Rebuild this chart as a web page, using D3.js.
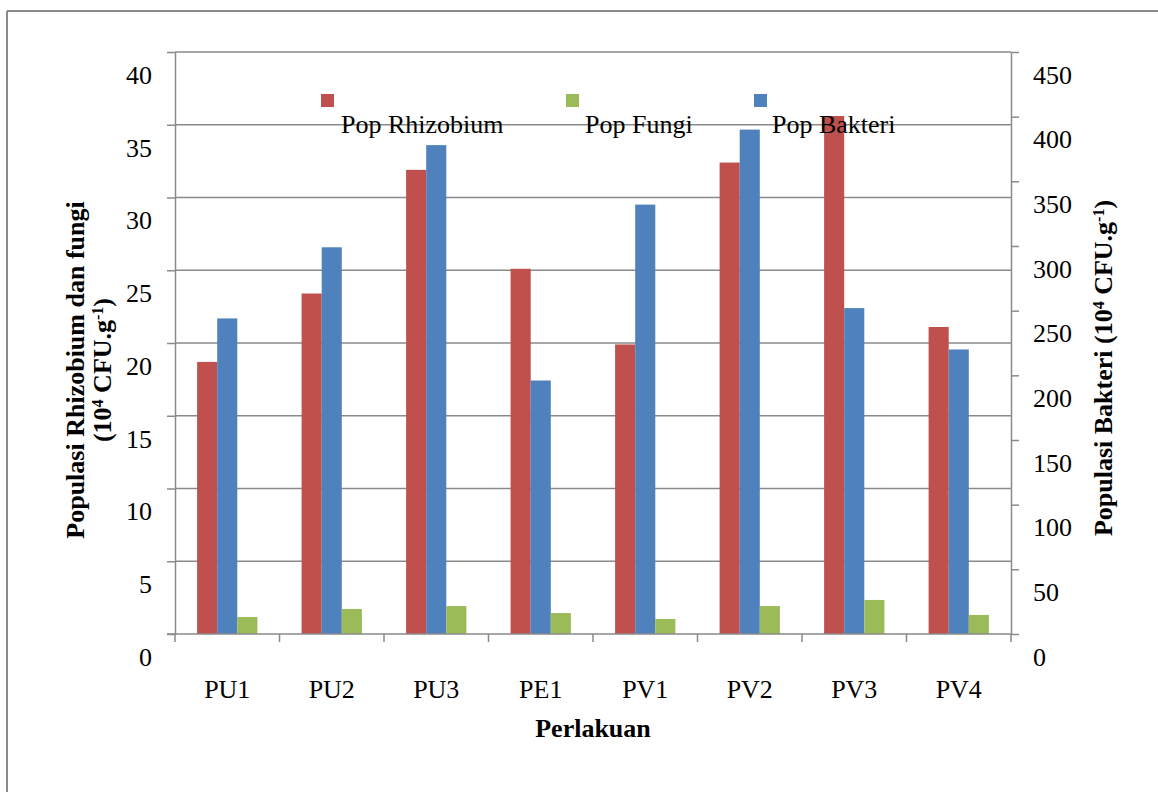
<!DOCTYPE html>
<html>
<head>
<meta charset="utf-8">
<script src="https://cdn.jsdelivr.net/npm/d3@7"></script>
<style>
  html, body { margin: 0; padding: 0; background: #fff; }
  svg { display: block; }
  text { font-family: "Liberation Serif", "Times New Roman", serif; fill: #000; }
</style>
</head>
<body>
<svg id="chart" width="1158" height="792"></svg>
<script>
const categories = ["PU1", "PU2", "PU3", "PE1", "PV1", "PV2", "PV3", "PV4"];
const rhizobium = [18.7, 23.4, 31.9, 25.1, 19.9, 32.4, 35.6, 21.1];
const fungi     = [1.17, 1.72, 1.92, 1.44, 1.03, 1.92, 2.34, 1.31];
const bakteri   = [244, 299, 378, 196, 332, 390, 252, 220];
const leftTicks  = [0, 5, 10, 15, 20, 25, 30, 35, 40];
const rightTicks = [0, 50, 100, 150, 200, 250, 300, 350, 400, 450];
const seriesNames = ["Pop Rhizobium", "Pop Fungi", "Pop Bakteri"];
const seriesColors = {"Pop Rhizobium": "#C0504D", "Pop Fungi": "#9BBB59", "Pop Bakteri": "#4F81BD"};
const barOrder = ["Pop Rhizobium", "Pop Bakteri", "Pop Fungi"];

const svg = d3.select("#chart");
const L = 175, R = 1011, T = 52, B = 634;
const gridColor = "#8a8a8a";
const tickFont = 26;

// outer frame (left and top edges only visible)
svg.append("line").attr("x1", 7).attr("x2", 1158).attr("y1", 11).attr("y2", 11)
  .attr("stroke", "#8a8a8a").attr("stroke-width", 2);
svg.append("line").attr("x1", 7).attr("x2", 7).attr("y1", 11).attr("y2", 792)
  .attr("stroke", "#8a8a8a").attr("stroke-width", 2);

const x = d3.scaleBand().domain(categories).range([L, R]).padding(0);
const xs = d3.scaleBand().domain(barOrder).range([0, x.bandwidth()]).paddingInner(0).paddingOuter(1.1);
const yL = d3.scaleLinear().domain([0, 40]).range([B, T]);
const yR = d3.scaleLinear().domain([0, 450]).range([B, T]);

// gridlines
svg.append("g").selectAll("line").data(leftTicks.filter(v => v > 0)).join("line")
  .attr("x1", L).attr("x2", R).attr("y1", d => yL(d)).attr("y2", d => yL(d))
  .attr("stroke", gridColor).attr("stroke-width", 1.5);

// bars
const rows = categories.map((c, i) => ({
  cat: c,
  vals: [
    {s: "Pop Rhizobium", v: rhizobium[i], sc: yL},
    {s: "Pop Bakteri", v: bakteri[i], sc: yR},
    {s: "Pop Fungi", v: fungi[i], sc: yL}
  ]
}));
const g = svg.append("g").selectAll("g").data(rows).join("g")
  .attr("transform", d => `translate(${x(d.cat)},0)`);
g.selectAll("rect").data(d => d.vals).join("rect")
  .attr("x", d => xs(d.s)).attr("width", xs.bandwidth())
  .attr("y", d => d.sc(d.v)).attr("height", d => B - d.sc(d.v))
  .attr("fill", d => seriesColors[d.s]);

// left axis
const axL = svg.append("g").attr("transform", `translate(${L},0)`)
  .call(d3.axisLeft(yL).tickValues(leftTicks).tickSize(8).tickSizeOuter(0).tickPadding(15));
axL.select(".domain").attr("stroke", gridColor).attr("stroke-width", 1.5);
axL.selectAll(".tick line").attr("stroke", gridColor).attr("stroke-width", 1.5);
axL.selectAll(".tick text").attr("font-size", tickFont).attr("font-family", "Liberation Serif")
  .attr("dy", "0.32em").attr("y", 23);

// right axis
const axR = svg.append("g").attr("transform", `translate(${R},0)`)
  .call(d3.axisRight(yR).tickValues(rightTicks).tickSize(8).tickSizeOuter(0).tickPadding(14));
axR.select(".domain").attr("stroke", gridColor).attr("stroke-width", 1.5);
axR.selectAll(".tick line").attr("stroke", gridColor).attr("stroke-width", 1.5);
axR.selectAll(".tick text").attr("font-size", tickFont).attr("font-family", "Liberation Serif")
  .attr("dy", "0.32em").attr("y", 23);

// bottom axis
const bounds = categories.map(c => x(c)).concat([x(categories[categories.length - 1]) + x.bandwidth()]);
svg.append("line").attr("x1", L - 8).attr("x2", R).attr("y1", B).attr("y2", B)
  .attr("stroke", gridColor).attr("stroke-width", 1.5);
svg.append("g").selectAll("line").data(bounds).join("line")
  .attr("x1", d => d).attr("x2", d => d).attr("y1", B).attr("y2", B + 8)
  .attr("stroke", gridColor).attr("stroke-width", 1.5);
svg.append("g").selectAll("text").data(categories).join("text")
  .attr("x", d => x(d) + x.bandwidth() / 2).attr("y", 689).attr("dy", "0.35em")
  .attr("text-anchor", "middle").attr("font-size", tickFont).text(d => d);

// axis titles
svg.append("text").attr("x", 593).attr("y", 728).attr("dy", "0.35em")
  .attr("text-anchor", "middle").attr("font-size", 26).attr("font-weight", "bold").text("Perlakuan");

function supTitle(sel, before, sup1, mid, sup2, after) {
  sel.append("tspan").text(before);
  sel.append("tspan").attr("font-size", 16).attr("baseline-shift", "super").text(sup1);
  sel.append("tspan").text(mid);
  sel.append("tspan").attr("font-size", 16).attr("baseline-shift", "super").text(sup2);
  sel.append("tspan").text(after);
}

const lt = svg.append("g").attr("transform", "translate(75,370) rotate(-90)");
lt.append("text").attr("text-anchor", "middle").attr("dy", "0.35em").attr("font-size", 26)
  .attr("font-weight", "bold").text("Populasi Rhizobium dan fungi");
supTitle(lt.append("text").attr("y", 27).attr("text-anchor", "middle").attr("dy", "0.35em")
  .attr("font-size", 26).attr("font-weight", "bold"), "(10", "4", " CFU.g", "-1", ")");

const rt = svg.append("g").attr("transform", "translate(1103,368) rotate(-90)");
supTitle(rt.append("text").attr("text-anchor", "middle").attr("dy", "0.35em")
  .attr("font-size", 26).attr("font-weight", "bold"), "Populasi Bakteri (10", "4", " CFU.g", "-1", ")");

// legend
const legendItems = [
  {s: "Pop Rhizobium", sx: 321, tx: 341},
  {s: "Pop Fungi", sx: 566, tx: 585},
  {s: "Pop Bakteri", sx: 754, tx: 772}
];
const lg = svg.append("g").selectAll("g").data(legendItems).join("g");
lg.append("rect").attr("x", d => d.sx).attr("y", 94).attr("width", 13).attr("height", 13)
  .attr("fill", d => seriesColors[d.s]);
lg.append("text").attr("x", d => d.tx).attr("y", 133).attr("font-size", 26).text(d => d.s);
</script>
</body>
</html>
